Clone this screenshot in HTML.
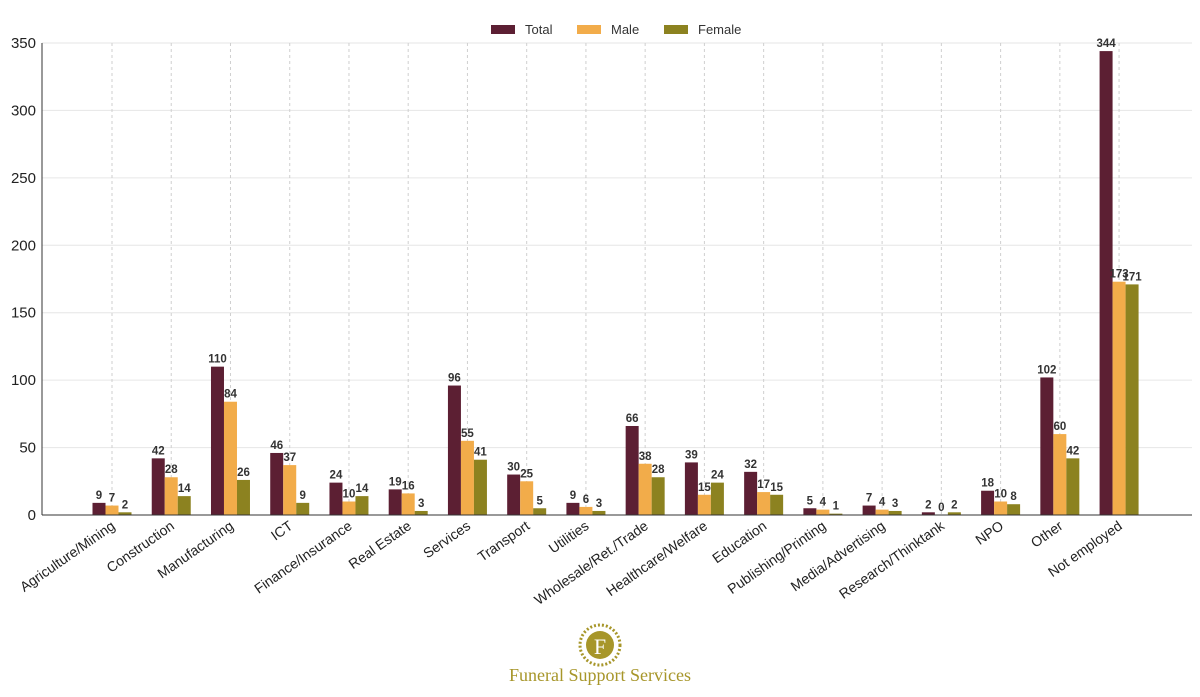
<!DOCTYPE html>
<html><head><meta charset="utf-8"><style>
html,body{margin:0;padding:0;background:#fff;}
svg{display:block;font-family:"Liberation Sans",sans-serif;}
</style></head><body>
<svg id="c" width="1200" height="697" viewBox="0 0 1200 697" xmlns="http://www.w3.org/2000/svg"></svg>
<script>
const data=[["Agriculture/Mining",9,7,2],["Construction",42,28,14],["Manufacturing",110,84,26],["ICT",46,37,9],["Finance/Insurance",24,10,14],["Real Estate",19,16,3],["Services",96,55,41],["Transport",30,25,5],["Utilities",9,6,3],["Wholesale/Ret./Trade",66,38,28],["Healthcare/Welfare",39,15,24],["Education",32,17,15],["Publishing/Printing",5,4,1],["Media/Advertising",7,4,3],["Research/Thinktank",2,0,2],["NPO",18,10,8],["Other",102,60,42],["Not employed",344,173,171]];
const cols=["#5c1f33","#f2ac4a","#8c8220"];
const y0=515,k=472/350,x0=112,dx=59.24,bw=13;
let s='';
for(let v=0;v<=350;v+=50){const y=y0-v*k;
 if(v>0)s+=`<line x1="42" x2="1192" y1="${y}" y2="${y}" stroke="#e6e6e6" stroke-width="1"/>`;
 s+=`<text x="36" y="${y+5}" font-size="15" text-anchor="end" fill="#222">${v}</text>`;}
data.forEach((d,i)=>{const cx=x0+i*dx;
 s+=`<line x1="${cx}" x2="${cx}" y1="43" y2="515" stroke="#cfcfcf" stroke-dasharray="3,3"/>`;});
data.forEach((d,i)=>{const cx=x0+i*dx;
 for(let j=0;j<3;j++){const v=d[j+1],h=v*k,x=cx+(j-1)*bw-bw/2;
  s+=`<rect x="${x}" y="${y0-h}" width="${bw}" height="${h}" fill="${cols[j]}"/>`;
  s+=`<text x="${x+bw/2}" y="${y0-h-4}" font-size="11.5" font-weight="bold" text-anchor="middle" fill="#333">${v}</text>`;}
 s+=`<text transform="translate(${cx+4},${y0+13}) rotate(-35)" font-size="14" text-anchor="end" fill="#222">${d[0]}</text>`;});
s+=`<line x1="42" x2="42" y1="43" y2="515" stroke="#333"/><line x1="42" x2="1192" y1="515" y2="515" stroke="#333"/>`;
const lg=[["Total",491],["Male",577],["Female",664]];
lg.forEach((l,j)=>{s+=`<rect x="${l[1]}" y="25" width="24" height="9" fill="${cols[j]}"/><text x="${l[1]+34}" y="34" font-size="13" fill="#333">${l[0]}</text>`;});
s+=`<circle cx="600" cy="645" r="20" fill="none" stroke="#a7962a" stroke-width="3" stroke-dasharray="2,2"/><circle cx="600" cy="645" r="14" fill="#a7962a"/><text x="600" y="654" font-size="22" font-family="Liberation Serif,serif" text-anchor="middle" fill="#fff">F</text>`;
s+=`<text x="600" y="681" font-size="18" font-family="Liberation Serif,serif" text-anchor="middle" fill="#a7962a">Funeral Support Services</text>`;
document.getElementById('c').innerHTML=s;
</script>
</body></html>
